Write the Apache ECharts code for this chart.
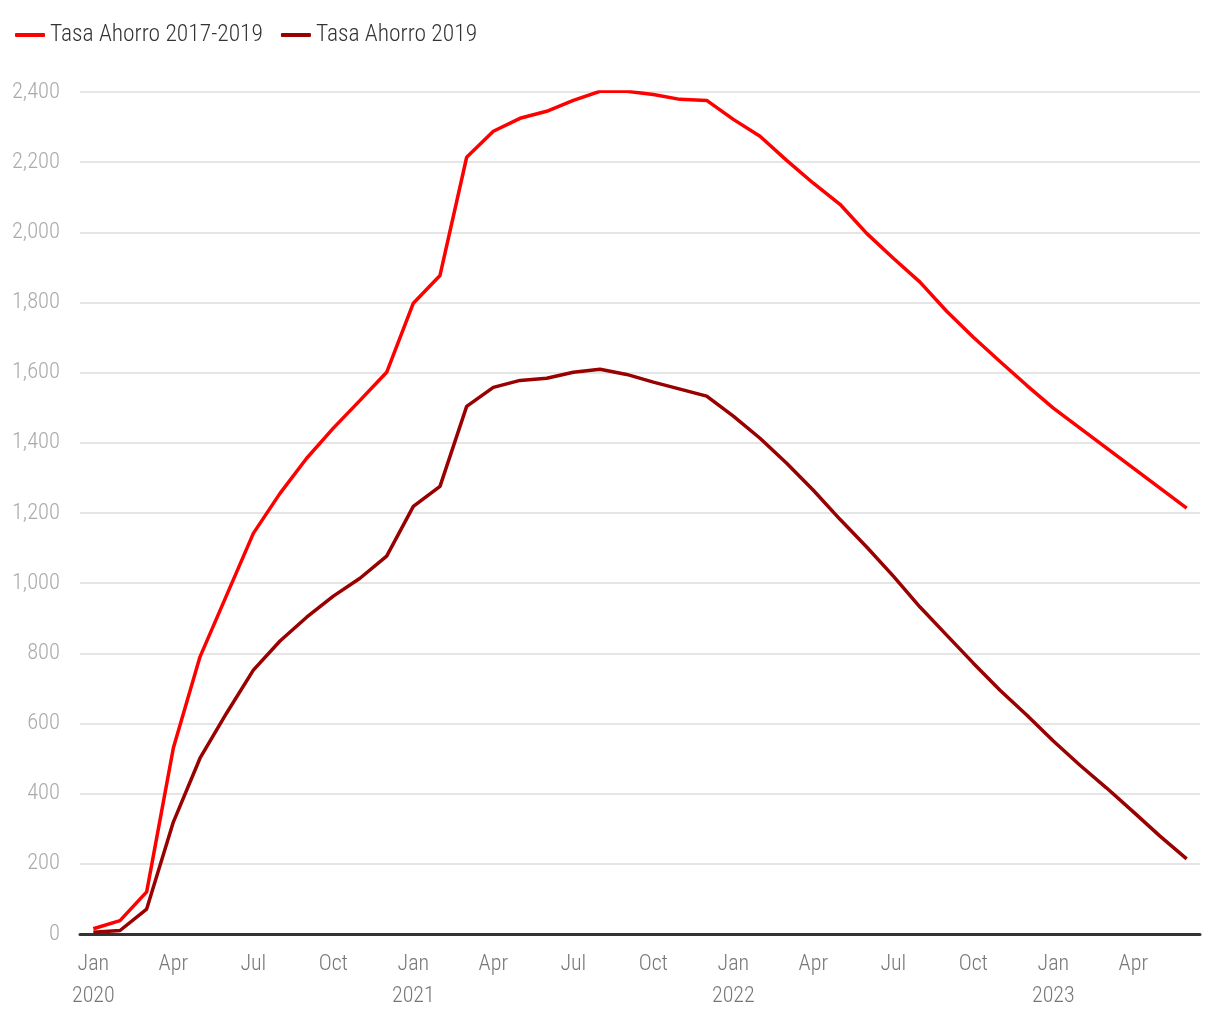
<!DOCTYPE html>
<html>
<head>
<meta charset="utf-8">
<script src="https://cdn.jsdelivr.net/npm/echarts@6/dist/echarts.min.js"></script>
<style>html,body{margin:0;padding:0;background:#fff}#c{width:1220px;height:1020px}</style>
</head>
<body>
<div id="c"></div>
<script>
const months = ['Jan\n2020','Feb','Mar','Apr','May','Jun','Jul','Aug','Sep','Oct','Nov','Dec',
  'Jan\n2021','Feb','Mar','Apr','May','Jun','Jul','Aug','Sep','Oct','Nov','Dec',
  'Jan\n2022','Feb','Mar','Apr','May','Jun','Jul','Aug','Sep','Oct','Nov','Dec',
  'Jan\n2023','Feb','Mar','Apr','May','Jun'];
const seriesNames = ['Tasa Ahorro 2017-2019', 'Tasa Ahorro 2019'];
const tasa1719 = [15,38,120,530,790,966,1142,1256,1356,1442,1521,1601,
  1798,1877,2214,2288,2325,2345,2376,2402,2402,2393,2379,2376,
  2322,2274,2205,2140,2080,1997,1926,1858,1775,1701,1632,1564,
  1499,1442,1385,1328,1271,1214];
const tasa19 = [5,10,71,319,501,630,752,835,903,963,1014,1077,
  1219,1276,1504,1558,1578,1584,1601,1610,1595,1573,1553,1533,
  1476,1413,1342,1265,1182,1103,1020,932,852,772,695,624,
  550,481,416,348,279,214];
const yTicks = [0,200,400,600,800,1000,1200,1400,1600,1800,2000,2200,2400];

const FONT = '"Roboto Condensed","Liberation Sans Narrow","Roboto",sans-serif';
const chart = echarts.init(document.getElementById('c'));
chart.setOption({
  animation: false,
  legend: {
    left: 10, top: 18,
    itemWidth: 30, itemHeight: 4, itemGap: 18,
    icon: 'roundRect',
    textStyle: {fontFamily: FONT, fontSize: 23.5, color: '#333', fontWeight: 300}
  },
  grid: {left: 80, right: 20, top: 92, bottom: 86},
  xAxis: {
    type: 'category',
    data: months,
    boundaryGap: true,
    axisLine: {lineStyle: {color: '#333', width: 3}},
    axisTick: {show: false},
    axisLabel: {
      interval: function(i){ return i % 3 === 0; },
      fontFamily: FONT, fontSize: 22, color: '#777', fontWeight: 300,
      margin: 14, lineHeight: 32
    },
    splitLine: {show: false}
  },
  yAxis: {
    type: 'value',
    min: yTicks[0], max: yTicks[yTicks.length-1], interval: 200,
    axisLine: {show: false},
    axisTick: {show: false},
    axisLabel: {
      fontFamily: FONT, fontSize: 22.5, color: '#aaa', fontWeight: 300, margin: 20,
      formatter: v => v.toLocaleString('en-US')
    },
    splitLine: {lineStyle: {color: '#e5e5e5', width: 2}}
  },
  series: [
    {name: seriesNames[0], type: 'line', data: tasa1719, symbol: 'none',
     lineStyle: {width: 3.5, color: '#ff0000'}, itemStyle: {color: '#ff0000'}},
    {name: seriesNames[1], type: 'line', data: tasa19, symbol: 'none',
     lineStyle: {width: 3.5, color: '#990000'}, itemStyle: {color: '#990000'}}
  ]
});
</script>
</body>
</html>
